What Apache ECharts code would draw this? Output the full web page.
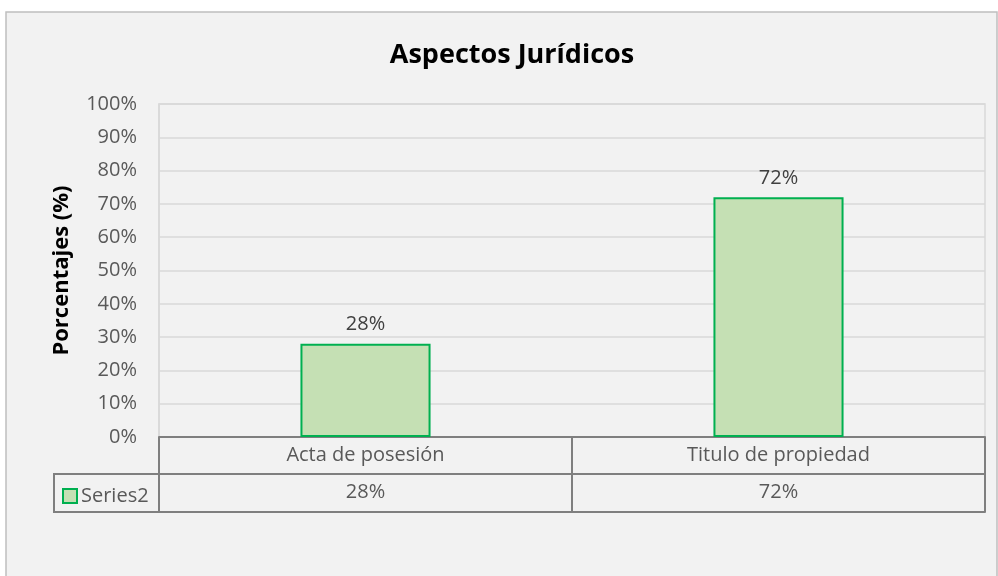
<!DOCTYPE html>
<html>
<head>
<meta charset="utf-8">
<script src="https://cdn.jsdelivr.net/npm/echarts@6/dist/echarts.min.js"></script>
<style>
  html, body { margin: 0; padding: 0; background: #ffffff; }
  #chart { width: 998px; height: 576px; }
</style>
</head>
<body>
<div id="chart"></div>
<script>
  // datos
  let categories = ['Acta de posesión', 'Titulo de propiedad'];
  let seriesName = 'Series2';
  let values = [0.28, 0.72];
  let yTicks = [0, 0.1, 0.2, 0.3, 0.4, 0.5, 0.6, 0.7, 0.8, 0.9, 1];

  let pct = function (v) {
    return Math.round(v * 100) + '%';
  };
  let font = '"Open Sans", sans-serif';
  let gray = '#7f7f7f';

  let chart = echarts.init(document.getElementById('chart'));
  let option = {
    backgroundColor: '#ffffff',
    animation: false,
    textStyle: {fontFamily: font},
    title: {
      text: 'Aspectos Jurídicos',
      left: 507,
      textAlign: 'center',
      top: 37,
      textStyle: {fontFamily: font, fontSize: 27, fontWeight: 'bold', color: '#000000'}
    },
    legend: {
      left: 57,
      top: 481,
      icon: 'rect',
      itemWidth: 14,
      itemHeight: 14,
      itemGap: 5,
      textStyle: {fontFamily: font, fontSize: 20, color: '#595959', padding: [0, 0, 0, -1]}
    },
    grid: {
      left: 159,
      right: 13,
      top: 104,
      bottom: 139,
      show: true,
      borderColor: '#d9d9d9',
      borderWidth: 1.5,
      backgroundColor: 'transparent'
    },
    xAxis: [
      {
        type: 'category',
        data: categories,
        position: 'bottom',
        axisLine: {lineStyle: {color: gray, width: 2}},
        axisTick: {show: true, length: 75, lineStyle: {color: gray, width: 2}},
        axisLabel: {fontFamily: font, fontSize: 20, color: '#595959', margin: 8}
      },
      {
        type: 'category',
        data: categories,
        position: 'bottom',
        offset: 37,
        axisLine: {lineStyle: {color: gray, width: 2}},
        axisTick: {show: false},
        axisLabel: {
          fontFamily: font, fontSize: 20, color: '#595959', margin: 8,
          formatter: function (v, i) { return pct(values[i]); }
        }
      },
      {
        type: 'category',
        data: categories,
        position: 'bottom',
        offset: 75,
        axisLine: {lineStyle: {color: gray, width: 2}},
        axisTick: {show: false},
        axisLabel: {show: false}
      }
    ],
    yAxis: {
      type: 'value',
      min: yTicks[0],
      max: yTicks[yTicks.length - 1],
      interval: 0.1,
      name: 'Porcentajes (%)',
      nameLocation: 'middle',
      nameGap: 86,
      nameTextStyle: {fontFamily: font, fontSize: 22, fontWeight: 'bold', color: '#000000'},
      axisLine: {show: true, lineStyle: {color: '#d9d9d9', width: 1.5}},
      axisTick: {show: false},
      axisLabel: {fontFamily: font, fontSize: 20, color: '#595959', margin: 22, formatter: pct},
      splitLine: {lineStyle: {color: '#d9d9d9', width: 1.5}}
    },
    series: [{
      name: seriesName,
      type: 'bar',
      data: values,
      barWidth: '31.5%',
      itemStyle: {color: '#c5e0b4', borderColor: '#00b050', borderWidth: 2},
      label: {
        show: true,
        position: 'top',
        distance: 9,
        fontFamily: font,
        fontSize: 20,
        color: '#404040',
        formatter: function (p) { return pct(p.value); }
      }
    }],
    graphic: [
      {
        type: 'rect',
        z: -10,
        silent: true,
        shape: {x: 6, y: 12, width: 991, height: 600},
        style: {fill: '#f2f2f2', stroke: '#bfbfbf', lineWidth: 1.5}
      },
      {
        type: 'polyline',
        silent: true,
        shape: {points: [[159, 474], [54, 474], [54, 512], [159, 512]]},
        style: {fill: null, stroke: gray, lineWidth: 2}
      }
    ]
  };
  chart.setOption(option);
</script>
</body>
</html>
